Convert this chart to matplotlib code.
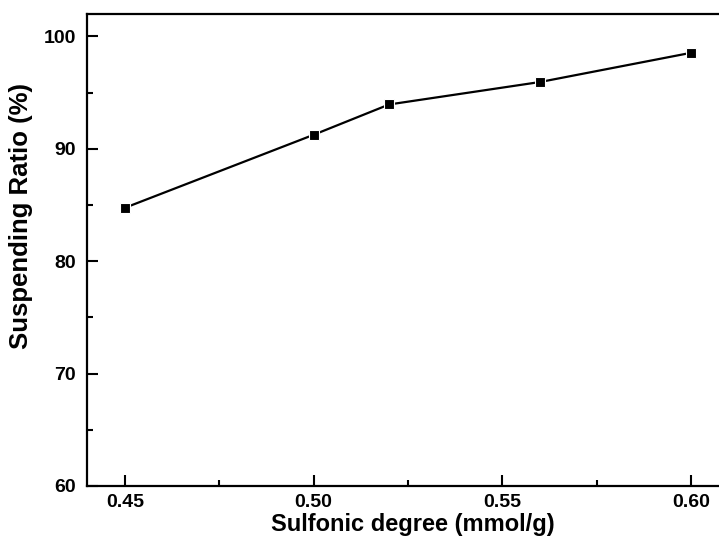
import matplotlib.pyplot as plt
from matplotlib.ticker import MultipleLocator

# data
sulfonic_degree = [0.45, 0.50, 0.52, 0.56, 0.60]
suspending_ratio = [84.75, 91.25, 93.95, 95.95, 98.55]

plt.rcParams['font.family'] = ['Liberation Sans', 'DejaVu Sans']
plt.rcParams['font.weight'] = 'bold'

fig = plt.figure(figsize=(7.19, 5.36), dpi=100)
# axes runs past the right edge of the figure, like the cropped original
ax = fig.add_axes([87 / 719, 50 / 536, (729 - 87) / 719, (486 - 14) / 536])

ax.plot(sulfonic_degree, suspending_ratio, color='black', linewidth=1.6,
        marker='s', markersize=7.5, markerfacecolor='black',
        markeredgecolor='white', markeredgewidth=0.8)

ax.set_xlim(0.44, 0.61)
ax.set_ylim(60, 102)
ax.xaxis.set_major_locator(MultipleLocator(0.05))
ax.xaxis.set_minor_locator(MultipleLocator(0.025))
ax.yaxis.set_major_locator(MultipleLocator(10))
ax.yaxis.set_minor_locator(MultipleLocator(5))
ax.xaxis.set_major_formatter(plt.FuncFormatter(lambda v, p: f"{v:.2f}"))

ax.tick_params(which='both', direction='in', width=1.5, labelsize=14,
               top=False, right=False)
ax.tick_params(which='major', length=8, pad=8)
ax.tick_params(which='minor', length=4)
ax.tick_params(axis='x', which='major', pad=6)
for s in ax.spines.values():
    s.set_linewidth(1.6)

ax.set_xlabel("Sulfonic degree (mmol/g)", fontsize=17, fontweight='bold')
ax.set_ylabel("Suspending Ratio (%)", fontsize=18.5, fontweight='bold')
# labels sit a bit off-centre in the original
ax.xaxis.set_label_coords(0.507, -0.058)
ax.yaxis.set_label_coords(-0.084, 0.572)

fig.savefig("out.png", dpi=100)
